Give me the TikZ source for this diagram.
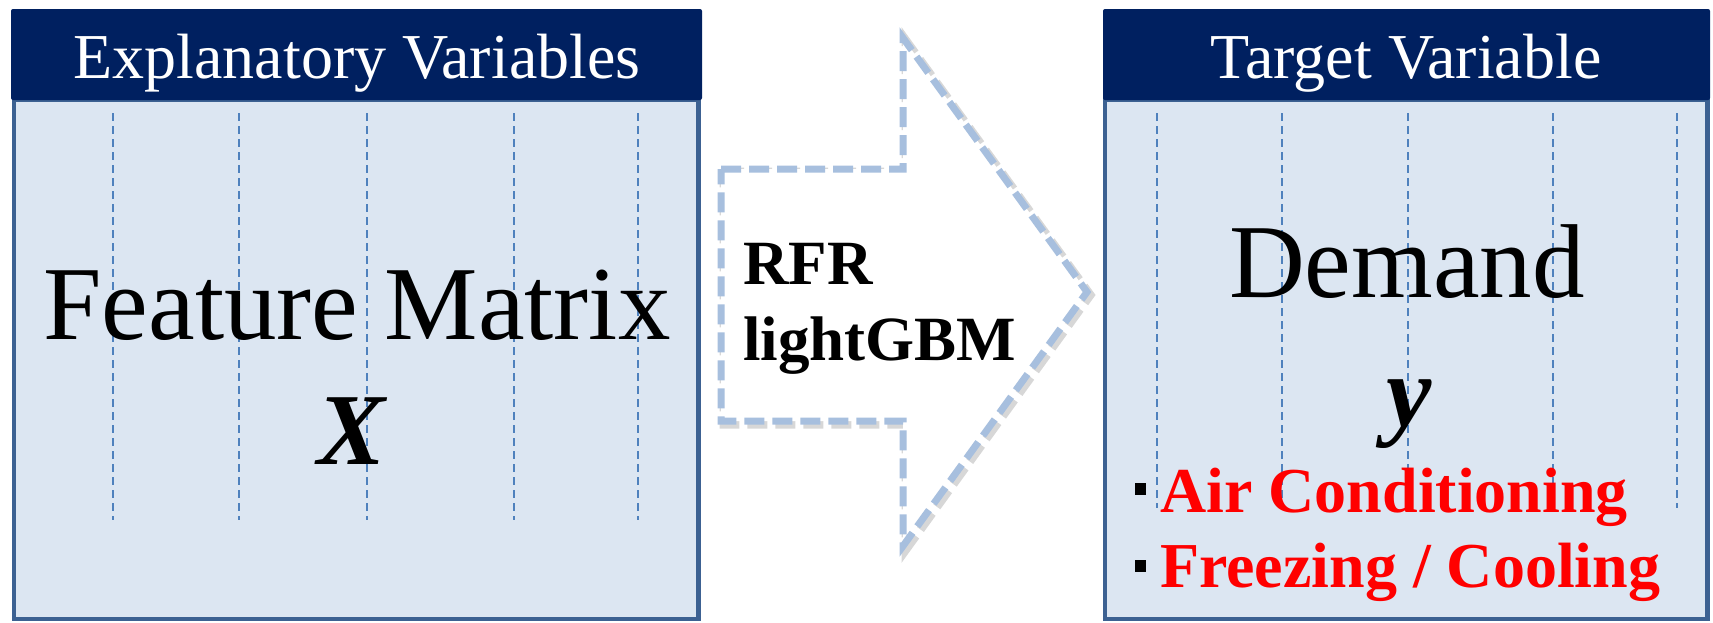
\documentclass[tikz,border=0pt]{standalone}
\usepackage{fontspec}
\setmainfont{Liberation Serif}
\definecolor{navy}{RGB}{0,32,96}
\definecolor{panelfill}{RGB}{220,230,242}
\definecolor{panelborder}{RGB}{60,97,146}
\definecolor{gridblue}{RGB}{79,129,189}
\definecolor{arrowblue}{RGB}{167,191,222}
\definecolor{shadowgray}{RGB}{215,215,215}
\begin{document}
\begin{tikzpicture}[x=1pt,y=-1pt,
  header/.style={fill=navy, draw=none, rounded corners=2pt},
  panel/.style={fill=panelfill, draw=panelborder, line width=4.5pt},
  gridline/.style={draw=gridblue, line width=1.3pt, dash pattern=on 8pt off 5pt},
  arrowline/.style={draw=arrowblue, line width=7pt, dash pattern=on 20pt off 8pt, fill=white},
  headtext/.style={text=white, inner sep=0pt, anchor=base, font=\fontsize{64}{70}\selectfont},
  bigtext/.style={inner sep=0pt, anchor=base, font=\fontsize{105}{110}\selectfont},
  bigvar/.style={inner sep=0pt, anchor=base, font=\fontsize{102}{110}\selectfont\bfseries\itshape},
  methodtext/.style={inner sep=0pt, anchor=base west, font=\fontsize{63}{70}\selectfont\bfseries},
  redtext/.style={inner sep=0pt, anchor=base west, text=red, font=\fontsize{64}{70}\selectfont\bfseries},
  bullet/.style={fill=black, draw=none}
]
\useasboundingbox (0,0) rectangle (1713,622);

% left panel
\draw[panel] (14,100) rectangle (698.5,619);
\fill[header] (11,9) rectangle (702,100);
\foreach \x in {113,239,367,514,638} \draw[gridline] (\x,113) -- (\x,520);
\node[headtext] (lh) at (357,78) {Explanatory Variables};
\node[bigtext] (fm) at (357,339) {Feature Matrix};
\node[bigvar] (X) at (352,464) {X};

% right panel
\draw[panel] (1105,100) rectangle (1707.5,619);
\fill[header] (1103,9) rectangle (1710,100);
\foreach \x in {1157,1282,1408,1553,1677} \draw[gridline] (\x,113) -- (\x,508);
\node[headtext] (rh) at (1406,78) {Target Variable};
\node[bigtext] (dem) at (1407,297) {Demand};
\node[bigvar] (y) at (1409,426) {y};
\fill[bullet] (1135,483) rectangle (1146,495);
\fill[bullet] (1135,560) rectangle (1146,572);
\node[redtext] (ac) at (1160,512) {Air Conditioning};
\node[redtext] (fc) at (1160,587) {Freezing / Cooling};

% arrow
\draw[shadowgray, line width=9pt, dash pattern=on 20pt off 8pt, line join=miter]
  (724,172) -- (906,172) -- (906,41) -- (1090,295) -- (906,549) -- (906,424) -- (724,424) -- cycle;
\draw[arrowline, line join=miter]
  (721,169) -- (903,169) -- (903,38) -- (1087,292) -- (903,546) -- (903,421) -- (721,421) -- cycle;
\node[methodtext] (rfr) at (743,284) {RFR};
\node[methodtext] (gbm) at (743,360) {lightGBM};
\end{tikzpicture}
\end{document}
